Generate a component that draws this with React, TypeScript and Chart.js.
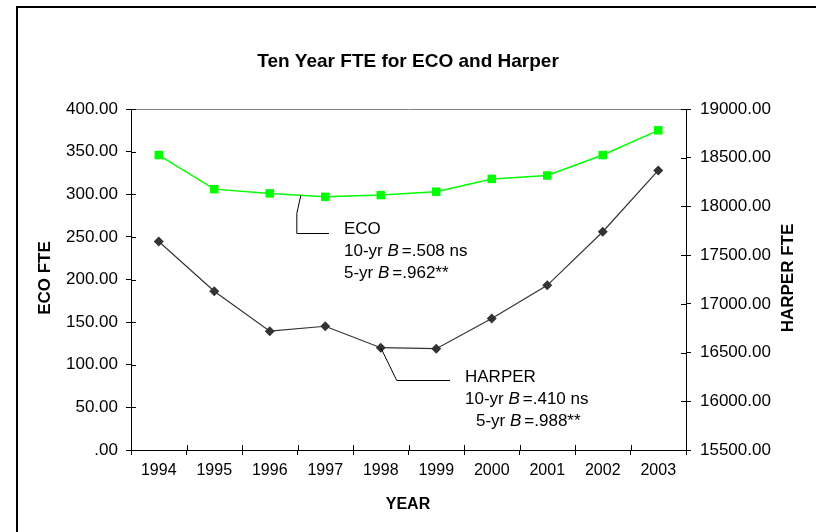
import React, { useEffect, useRef } from 'react';
import { Chart, registerables } from 'chart.js';

Chart.register(...registerables);

const years = ['1994', '1995', '1996', '1997', '1998', '1999', '2000', '2001', '2002', '2003'];
const ecoFte = [346, 306, 301, 297, 299, 303, 318, 322, 346, 375];
const harperFte = [17640, 17130, 16720, 16770, 16550, 16540, 16850, 17190, 17740, 18370];
const ecoTicks = [0, 50, 100, 150, 200, 250, 300, 350, 400];
const harperTicks = [15500, 16000, 16500, 17000, 17500, 18000, 18500, 19000];

const chartTitle = 'Ten Year FTE for ECO and Harper';
const xTitle = 'YEAR';
const yLeftTitle = 'ECO FTE';
const yRightTitle = 'HARPER FTE';
const ecoNote = [['ECO'], ['10-yr ', 'B', '=.508 ns'], ['5-yr ', 'B', '=.962**']];
const harperNote = [['HARPER'], ['10-yr ', 'B', '=.410 ns'], ['5-yr ', 'B', '=.988**']];

const FONT = '"Liberation Sans", Arial, sans-serif';

const fmt = (v: number) => {
  const s = Number(v).toFixed(2);
  return s.startsWith('0.') ? s.slice(1) : s;
};

function drawNote(ctx: CanvasRenderingContext2D, lines: string[][], ys: number[], xs: number[]) {
  ctx.fillStyle = '#000';
  ctx.textBaseline = 'middle';
  ctx.textAlign = 'left';
  lines.forEach((segs, i) => {
    let cx = xs[i];
    segs.forEach((s, j) => {
      ctx.font = (j === 1 ? 'italic ' : '') + `17px ${FONT}`;
      ctx.fillText(s, cx, ys[i]);
      cx += ctx.measureText(s).width + (j === 1 ? 3 : 0);
    });
  });
}

const decor = {
  id: 'decor',
  afterDraw(chart: any) {
    const { ctx, chartArea: a, scales } = chart;
    const xs = scales.x, yl = scales.y, yr = scales.y1;
    ctx.save();
    // outer frame
    ctx.strokeStyle = '#000';
    ctx.lineWidth = 2;
    ctx.strokeRect(17, 7, 1000, 1000);
    // top border of plot
    ctx.lineWidth = 1;
    ctx.strokeStyle = '#808080';
    ctx.beginPath();
    ctx.moveTo(a.left, a.top + 0.5);
    ctx.lineTo(a.right, a.top + 0.5);
    ctx.stroke();
    // inner tick stubs
    ctx.strokeStyle = '#000';
    ctx.beginPath();
    ecoTicks.forEach((v) => {
      const y = Math.round(yl.getPixelForValue(v)) + 0.5;
      ctx.moveTo(a.left, y);
      ctx.lineTo(a.left + 5, y);
    });
    harperTicks.forEach((v) => {
      const y = Math.round(yr.getPixelForValue(v)) + 0.5;
      ctx.moveTo(a.right, y);
      ctx.lineTo(a.right - 5, y);
    });
    for (let i = 1; i < years.length; i++) {
      const x = Math.round((xs.getPixelForValue(i - 1) + xs.getPixelForValue(i)) / 2) + 0.5;
      ctx.moveTo(x, a.bottom);
      ctx.lineTo(x, a.bottom - 5);
    }
    ctx.stroke();

    // titles
    ctx.fillStyle = '#000';
    ctx.textAlign = 'center';
    ctx.textBaseline = 'middle';
    ctx.font = `bold 19px ${FONT}`;
    ctx.fillText(chartTitle, 408, 62);
    ctx.font = `bold 16px ${FONT}`;
    ctx.fillText(xTitle, 408, 505);
    ctx.font = `bold 17px ${FONT}`;
    ctx.save();
    ctx.translate(45, 278);
    ctx.rotate(-Math.PI / 2);
    ctx.fillText(yLeftTitle, 0, 0);
    ctx.restore();
    ctx.save();
    ctx.translate(788, 278);
    ctx.rotate(-Math.PI / 2);
    ctx.fillText(yRightTitle, 0, 0);
    ctx.restore();

    // ECO leader line
    const x2 = xs.getPixelForValue(2), x3 = xs.getPixelForValue(3);
    const f = 0.56;
    const ex = x2 + f * (x3 - x2);
    const ey = yl.getPixelForValue(ecoFte[2] + f * (ecoFte[3] - ecoFte[2]));
    ctx.strokeStyle = '#000';
    ctx.lineWidth = 1;
    ctx.beginPath();
    ctx.moveTo(ex, ey);
    ctx.lineTo(ex - 4, ey + 18);
    ctx.lineTo(ex - 4, 233.5);
    ctx.lineTo(329, 233.5);
    ctx.stroke();
    drawNote(ctx, ecoNote, [229, 251, 273], [344, 344, 344]);

    // HARPER leader line
    const hx = xs.getPixelForValue(4), hy = yr.getPixelForValue(harperFte[4]);
    ctx.beginPath();
    ctx.moveTo(hx, hy);
    ctx.lineTo(hx + 16, 380.5);
    ctx.lineTo(450, 380.5);
    ctx.stroke();
    drawNote(ctx, harperNote, [377, 399, 421], [465, 465, 476]);
    ctx.restore();
  },
};

export default function App() {
  const ref = useRef<HTMLCanvasElement>(null);
  useEffect(() => {
    document.body.style.margin = '0';
    const chart = new Chart(ref.current!, {
      type: 'line',
      data: {
        labels: years,
        datasets: [
          {
            label: 'ECO',
            data: ecoFte,
            yAxisID: 'y',
            borderColor: '#00ff00',
            backgroundColor: '#00ff00',
            borderWidth: 1.5,
            pointStyle: 'rect',
            pointRadius: 6,
            pointBorderWidth: 0,
            tension: 0,
          },
          {
            label: 'HARPER',
            data: harperFte,
            yAxisID: 'y1',
            borderColor: '#333333',
            backgroundColor: '#333333',
            borderWidth: 1.2,
            pointStyle: 'rectRot',
            pointRadius: 5,
            pointBorderWidth: 0,
            tension: 0,
          },
        ],
      },
      options: {
        animation: false,
        responsive: true,
        maintainAspectRatio: false,
        layout: { padding: { top: 109, left: 0, right: 0, bottom: 0 } },
        plugins: { legend: { display: false }, tooltip: { enabled: false }, title: { display: false } },
        scales: {
          x: {
            type: 'category',
            offset: true,
            grid: { display: true, drawOnChartArea: false, offset: true, tickLength: 5, color: '#000' },
            border: { display: true, color: '#000', width: 1 },
            ticks: { color: '#000', font: { family: FONT, size: 16 }, padding: 6, maxRotation: 0, autoSkip: false },
            afterFit: (s: any) => { s.height = 82; },
          },
          y: {
            type: 'linear',
            position: 'left',
            min: 0,
            max: 400,
            afterBuildTicks: (s: any) => { s.ticks = ecoTicks.map((v) => ({ value: v })); },
            grid: { display: true, drawOnChartArea: false, tickLength: 5, color: '#000' },
            border: { display: true, color: '#000', width: 1 },
            ticks: { color: '#000', font: { family: FONT, size: 17 }, padding: 8, callback: (v: any) => fmt(v) },
            afterFit: (s: any) => { s.width = 131; },
          },
          y1: {
            type: 'linear',
            position: 'right',
            min: 15500,
            max: 19000,
            afterBuildTicks: (s: any) => { s.ticks = harperTicks.map((v) => ({ value: v })); },
            grid: { display: true, drawOnChartArea: false, tickLength: 5, color: '#000' },
            border: { display: true, color: '#000', width: 1 },
            ticks: { color: '#000', font: { family: FONT, size: 17 }, padding: 9, callback: (v: any) => fmt(v) },
            afterFit: (s: any) => { s.width = 130; },
          },
        },
      },
      plugins: [decor],
    });
    return () => chart.destroy();
  }, []);
  return (
    <div style={{ position: 'relative', width: 816, height: 532 }}>
      <canvas ref={ref} />
    </div>
  );
}
